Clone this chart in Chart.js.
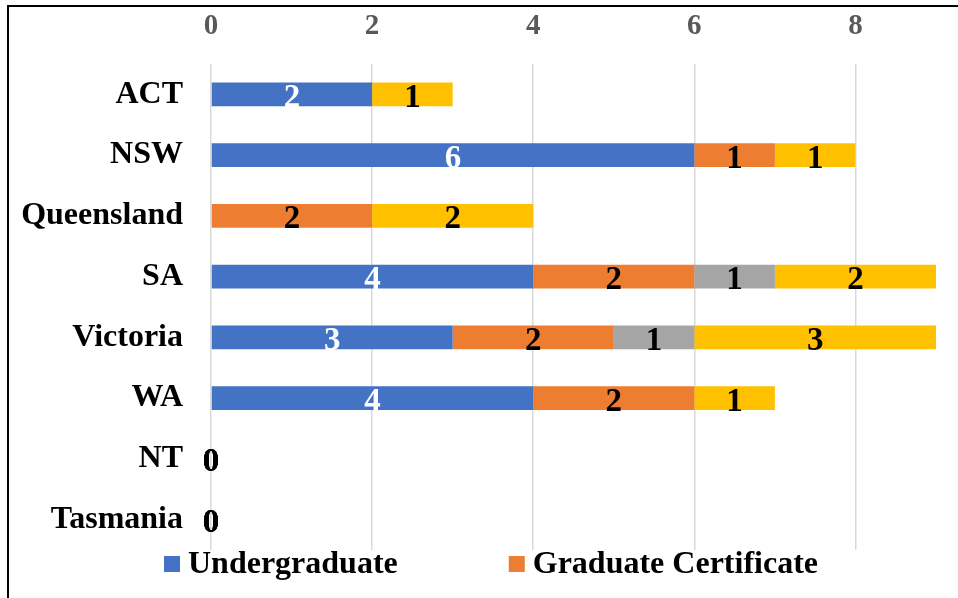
<!DOCTYPE html>
<html>
<head>
<meta charset="utf-8">
<script src="https://cdn.jsdelivr.net/npm/chart.js@4"></script>
<style>
  html, body { margin: 0; padding: 0; background: #fff; overflow: hidden; }
  #wrap { position: relative; width: 958px; height: 598px; }
  #frame { position: absolute; left: 7px; top: 5px; width: 1000px; height: 700px;
           border-top: 2px solid #000; border-left: 2px solid #000; pointer-events: none; }
  canvas { position: absolute; left: 0; top: 0; }
</style>
</head>
<body>
<div id="wrap">
  <canvas id="c" width="958" height="598"></canvas>
  <div id="frame"></div>
</div>
<script>
const categories = ['ACT', 'NSW', 'Queensland', 'SA', 'Victoria', 'WA', 'NT', 'Tasmania'];
const undergraduate       = [2,    6,    null, 4, 3, 4,    0, 0];
const graduateCertificate = [null, 1,    2,    2, 2, 2,    0, 0];
const graduateDiploma     = [null, null, null, 1, 1, null, 0, 0];
const masters             = [1,    1,    2,    2, 3, 1,    0, 0];
const seriesNames = ['Undergraduate', 'Graduate Certificate', 'Graduate Diploma', 'Masters'];
const xTicks = [0, 2, 4, 6, 8];
const xMax = 9;
const legendShown = 2; // only the first legend row is visible in the frame

const colors = ['#4472C4', '#ED7D31', '#A5A5A5', '#FFC000'];
const labelColors = ['#FFFFFF', '#000000', '#000000', '#000000'];
const FONT = "'Liberation Serif', 'Times New Roman', serif";

const dataLabels = {
  id: 'dataLabels',
  afterDatasetsDraw(chart) {
    const ctx = chart.ctx;
    ctx.save();
    ctx.font = 'bold 33px ' + FONT;
    ctx.textAlign = 'center';
    ctx.textBaseline = 'middle';
    chart.data.datasets.forEach((ds, di) => {
      const meta = chart.getDatasetMeta(di);
      meta.data.forEach((el, i) => {
        const v = ds.data[i];
        if (v === null || v === undefined) return;
        const x = (el.x + el.base) / 2;
        ctx.fillStyle = labelColors[di];
        ctx.fillText(String(v), x, el.y + 4);
      });
    });
    ctx.restore();
  }
};

const customLegend = {
  id: 'customLegend',
  afterDraw(chart) {
    const ctx = chart.ctx;
    ctx.save();
    ctx.font = 'bold 32px ' + FONT;
    ctx.textBaseline = 'middle';
    ctx.textAlign = 'left';
    const box = 16, gap = 8, spacing = 111;
    const items = chart.data.datasets.slice(0, legendShown);
    const widths = items.map(d => ctx.measureText(d.label).width);
    let total = 0;
    widths.forEach((w, i) => { total += box + gap + w + (i ? spacing : 0); });
    let x = 491 - total / 2;
    const y = chart.chartArea.bottom + 14;
    items.forEach((d, i) => {
      ctx.fillStyle = d.backgroundColor;
      ctx.fillRect(x, y - box / 2, box, box);
      ctx.fillStyle = '#000';
      ctx.fillText(d.label, x + box + gap, y + 1);
      x += box + gap + widths[i] + spacing;
    });
    ctx.restore();
  }
};

const seriesData = [undergraduate, graduateCertificate, graduateDiploma, masters];

new Chart(document.getElementById('c'), {
  type: 'bar',
  data: {
    labels: categories,
    datasets: seriesData.map((d, i) => ({
      label: seriesNames[i],
      data: d,
      backgroundColor: colors[i],
      borderWidth: 0,
      categoryPercentage: 1,
      barPercentage: 0.395
    }))
  },
  options: {
    indexAxis: 'y',
    responsive: false,
    animation: false,
    layout: { padding: { left: 22, right: 22, top: 10, bottom: 48 } },
    plugins: {
      legend: { display: false },
      tooltip: { enabled: false }
    },
    scales: {
      x: {
        position: 'top',
        stacked: true,
        min: 0,
        max: xMax,
        afterBuildTicks(axis) { axis.ticks = xTicks.map(v => ({ value: v })); },
        afterFit(axis) { axis.height = 54; },
        grid: { color: '#D9D9D9', lineWidth: 1.5, drawTicks: false },
        border: { display: false },
        ticks: {
          padding: 20,
          color: '#595959',
          font: { family: FONT, size: 29, weight: 'bold' }
        }
      },
      y: {
        stacked: true,
        afterFit(axis) { axis.width = 189; },
        grid: { display: false, drawTicks: false },
        border: { display: false },
        ticks: {
          padding: 28,
          color: '#000000',
          font: { family: FONT, size: 32, weight: 'bold' }
        }
      }
    }
  },
  plugins: [dataLabels, customLegend]
});
</script>
</body>
</html>
